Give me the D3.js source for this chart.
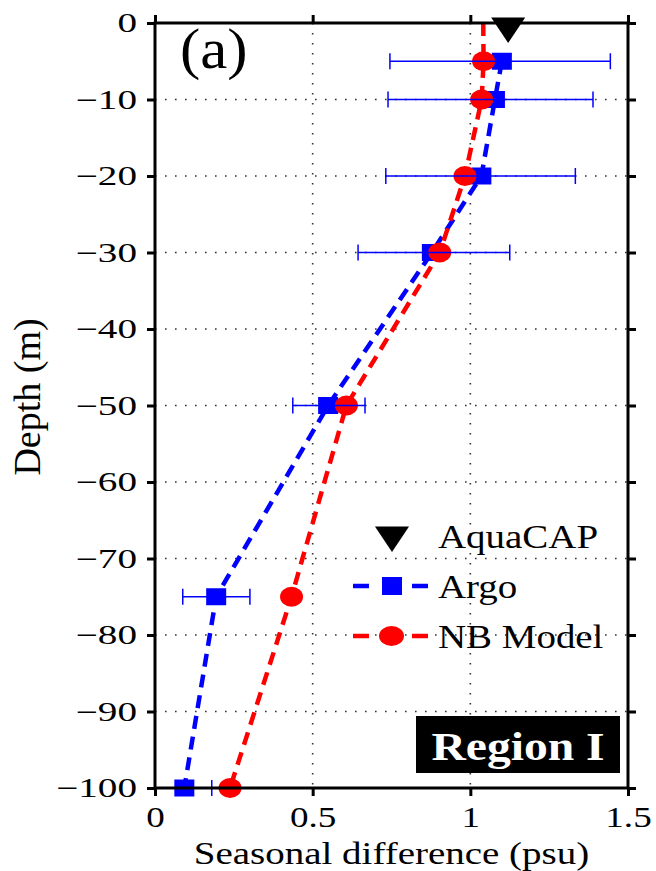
<!DOCTYPE html>
<html>
<head>
<meta charset="utf-8">
<script src="https://cdn.jsdelivr.net/npm/d3@7"></script>
<style>
  body { margin: 0; background: #fff; }
  svg { display: block; }
  text { font-family: "Liberation Serif", "Times New Roman", serif; fill: #000; }
</style>
</head>
<body>
<div id="chart"></div>
<script>
// data
var argoDepth = [-5, -10, -20, -30, -50, -75, -100];
var argoVal = [1.100, 1.078, 1.035, 0.878, 0.549, 0.194, 0.093];
var argoLow = [0.745, 0.739, 0.732, 0.644, 0.437, 0.088, 0.000];
var argoHigh = [1.444, 1.389, 1.333, 1.125, 0.666, 0.301, 0.180];

var nbDepth = [0, -5, -10, -20, -30, -50, -75, -100];
var nbVal = [1.041, 1.042, 1.036, 0.983, 0.903, 0.607, 0.433, 0.238];

var aquaDepth = [0];
var aquaVal = [1.12];

var xTicks = [0, 0.5, 1, 1.5];
var yTicks = [0, -10, -20, -30, -40, -50, -60, -70, -80, -90, -100];
var gridX = [0.5, 1];
var gridY = [-10, -20, -30, -40, -50, -60, -70, -80, -90];

var svgWidth = 656;
var svgHeight = 871;
var margin = { top: 23, right: 28, bottom: 83, left: 155 };
var width = svgWidth - margin.left - margin.right;
var height = svgHeight - margin.top - margin.bottom;

var blue = "#0000ff";
var red = "#ff0000";

var svg = d3.select("#chart").append("svg")
  .attr("width", svgWidth)
  .attr("height", svgHeight);

var chartGroup = svg.append("g")
  .attr("transform", `translate(${margin.left}, ${margin.top})`);

var x = d3.scaleLinear().domain([0, 1.5]).range([0, width]);
var y = d3.scaleLinear().domain([0, -100]).range([0, height]);

// dotted grid
chartGroup.selectAll(".gx").data(gridX).enter().append("line")
  .attr("x1", d => x(d)).attr("x2", d => x(d))
  .attr("y1", 0).attr("y2", height)
  .attr("stroke", "#333").attr("stroke-width", 1.6)
  .attr("stroke-dasharray", "1.6,8.4");
chartGroup.selectAll(".gy").data(gridY).enter().append("line")
  .attr("y1", d => y(d)).attr("y2", d => y(d))
  .attr("x1", 0).attr("x2", width)
  .attr("stroke", "#333").attr("stroke-width", 1.6)
  .attr("stroke-dasharray", "1.6,8.4");

var argo = argoDepth.map((d, i) => ({ depth: d, val: argoVal[i], lo: argoLow[i], hi: argoHigh[i] }));
var nb = nbDepth.map((d, i) => ({ depth: d, val: nbVal[i] }));

var line = d3.line().x(d => x(d.val)).y(d => y(d.depth));

// Argo
chartGroup.append("path")
  .datum(argo)
  .attr("d", line)
  .attr("fill", "none")
  .attr("stroke", blue)
  .attr("stroke-width", 4.5)
  .attr("stroke-dasharray", "13,8");

chartGroup.selectAll(".sq").data(argo).enter().append("rect")
  .attr("x", d => x(d.val) - 10)
  .attr("y", d => y(d.depth) - 8.5)
  .attr("width", 20)
  .attr("height", 17)
  .attr("fill", blue);

// NB model
chartGroup.append("path")
  .datum(nb)
  .attr("d", line)
  .attr("fill", "none")
  .attr("stroke", red)
  .attr("stroke-width", 4.5)
  .attr("stroke-dasharray", "13,8");

chartGroup.selectAll(".dot").data(nb.filter(d => d.depth < 0)).enter().append("ellipse")
  .attr("cx", d => x(d.val))
  .attr("cy", d => y(d.depth))
  .attr("rx", 11.5)
  .attr("ry", 10)
  .attr("fill", red);

// Argo error bars
var eb = chartGroup.selectAll(".eb").data(argo).enter().append("g")
  .attr("stroke", blue).attr("stroke-width", 1.5);
eb.append("line")
  .attr("x1", d => x(d.lo)).attr("x2", d => x(d.hi))
  .attr("y1", d => y(d.depth)).attr("y2", d => y(d.depth));
eb.append("line")
  .attr("x1", d => x(d.lo)).attr("x2", d => x(d.lo))
  .attr("y1", d => y(d.depth) - 8).attr("y2", d => y(d.depth) + 8);
eb.append("line")
  .attr("x1", d => x(d.hi)).attr("x2", d => x(d.hi))
  .attr("y1", d => y(d.depth) - 8).attr("y2", d => y(d.depth) + 8);

// AquaCAP
var tri = d3.symbol().type(d3.symbolTriangle).size(380);
chartGroup.selectAll(".tri").data(aquaVal).enter().append("path")
  .attr("d", tri)
  .attr("transform", (d, i) => `translate(${x(d)}, ${y(aquaDepth[i]) + 3}) rotate(180) scale(1.15,1)`)
  .attr("fill", "#000");

// axes
var fmtX = d3.format("~g");
var xAxis = chartGroup.append("g")
  .attr("transform", `translate(0, ${height})`)
  .call(d3.axisBottom(x).tickValues(xTicks).tickFormat(fmtX).tickSizeInner(8).tickSizeOuter(0));
xAxis.selectAll("text")
  .attr("y", 39.5).attr("dy", null)
  .attr("font-size", 29)
  .attr("transform", "scale(1.28,1)");

var yAxis = chartGroup.append("g")
  .call(d3.axisLeft(y).tickValues(yTicks).tickFormat(d3.format("d")).tickSizeInner(8).tickSizeOuter(0));
yAxis.selectAll("text")
  .attr("x", -18 / 1.45)
  .attr("dy", "0.33em")
  .attr("font-size", 27)
  .attr("transform", "scale(1.45,1)");

chartGroup.append("g")
  .call(d3.axisTop(x).tickValues(xTicks).tickFormat("").tickSizeInner(8).tickSizeOuter(0));
chartGroup.append("g")
  .attr("transform", `translate(${width}, 0)`)
  .call(d3.axisRight(y).tickValues(yTicks).tickFormat("").tickSizeInner(8).tickSizeOuter(0));

chartGroup.selectAll(".domain").remove();
chartGroup.selectAll(".tick line").attr("stroke", "#000").attr("stroke-width", 3);

chartGroup.append("rect")
  .attr("width", width).attr("height", height)
  .attr("fill", "none").attr("stroke", "#000").attr("stroke-width", 3);

// stretched text helper
function addText(px, py, sx, str, size, anchor, weight, fill) {
  return svg.append("text")
    .attr("transform", `translate(${px}, ${py}) scale(${sx},1)`)
    .attr("text-anchor", anchor || "start")
    .attr("font-size", size)
    .attr("font-weight", weight || "normal")
    .style("fill", fill || "#000")
    .text(str);
}

addText(margin.left + width / 2, 863.5, 1.2, "Seasonal difference (psu)", 32.5, "middle");
svg.append("text")
  .attr("transform", "translate(40, 397) rotate(-90)")
  .attr("text-anchor", "middle")
  .attr("font-size", 38)
  .text("Depth (m)");

addText(180, 68, 1.05, "(a)", 58);

// legend
var lg = svg.append("g");
lg.append("path")
  .attr("d", tri)
  .attr("transform", "translate(392, 535) rotate(180) scale(1.15,1)")
  .attr("fill", "#000");
addText(438, 548, 1.18, "AquaCAP", 33);

[[blue, 586, "Argo"], [red, 636, "NB Model"]].forEach(function(row) {
  lg.append("line").attr("x1", 353).attr("x2", 369).attr("y1", row[1]).attr("y2", row[1])
    .attr("stroke", row[0]).attr("stroke-width", 4.5);
  lg.append("line").attr("x1", 412).attr("x2", 428).attr("y1", row[1]).attr("y2", row[1])
    .attr("stroke", row[0]).attr("stroke-width", 4.5);
  addText(438, row[1] + 12, 1.18, row[2], 33);
});
lg.append("rect").attr("x", 382).attr("y", 577).attr("width", 20).attr("height", 18).attr("fill", blue);
lg.append("ellipse").attr("cx", 391.5).attr("cy", 636).attr("rx", 12.5).attr("ry", 10).attr("fill", red);

// region box
svg.append("rect")
  .attr("x", 416).attr("y", 716).attr("width", 204).attr("height", 57)
  .attr("fill", "#000");
addText(518, 760, 1.19, "Region I", 40, "middle", "bold", "#fff");
</script>
</body>
</html>
